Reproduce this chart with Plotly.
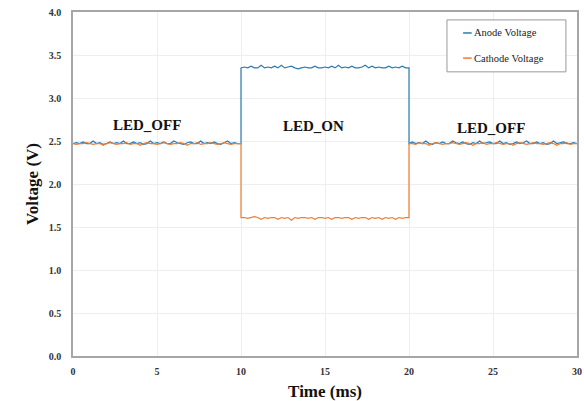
import numpy as np
import plotly.graph_objects as go

# Measured voltages, sampled every 0.2 ms within each interval
anode_off_1 = [2.47, 2.48, 2.47, 2.49, 2.47, 2.47, 2.50, 2.47, 2.48, 2.46, 2.47, 2.49, 2.47, 2.48, 2.47, 2.50, 2.47,
               2.47, 2.49, 2.47, 2.48, 2.46, 2.47, 2.50, 2.47, 2.48, 2.47, 2.49, 2.47, 2.47, 2.50, 2.48, 2.47, 2.46,
               2.48, 2.49, 2.47, 2.47, 2.50, 2.47, 2.48, 2.47, 2.49, 2.47, 2.46, 2.48, 2.50, 2.47, 2.48, 2.47, 2.47]
anode_on = [3.35, 3.36, 3.35, 3.37, 3.35, 3.35, 3.38, 3.35, 3.36, 3.35, 3.37, 3.35, 3.38, 3.35, 3.36, 3.37, 3.35,
            3.34, 3.35, 3.36, 3.35, 3.35, 3.37, 3.35, 3.35, 3.36, 3.35, 3.37, 3.35, 3.38, 3.35, 3.36, 3.35, 3.37,
            3.35, 3.35, 3.36, 3.38, 3.35, 3.37, 3.35, 3.36, 3.35, 3.35, 3.37, 3.35, 3.36, 3.35, 3.37, 3.35, 3.35]
anode_off_2 = [2.47, 2.49, 2.47, 2.48, 2.47, 2.50, 2.47, 2.46, 2.48, 2.47, 2.49, 2.47, 2.47, 2.50, 2.48, 2.47, 2.49,
               2.47, 2.46, 2.48, 2.47, 2.50, 2.47, 2.48, 2.49, 2.47, 2.47, 2.50, 2.47, 2.48, 2.46, 2.47, 2.49, 2.47,
               2.48, 2.50, 2.47, 2.47, 2.49, 2.47, 2.48, 2.46, 2.47, 2.50, 2.47, 2.48, 2.49, 2.47, 2.47, 2.48, 2.47]

cathode_off_1 = [2.47, 2.46, 2.47, 2.47, 2.48, 2.47, 2.46, 2.47, 2.47, 2.45, 2.47, 2.48, 2.47, 2.46, 2.47, 2.47,
                 2.48, 2.46, 2.47, 2.47, 2.45, 2.47, 2.48, 2.47, 2.47, 2.46, 2.47, 2.48, 2.47, 2.46, 2.47, 2.47,
                 2.48, 2.47, 2.45, 2.47, 2.47, 2.48, 2.46, 2.47, 2.47, 2.48, 2.47, 2.46, 2.47, 2.48, 2.47, 2.46,
                 2.47, 2.47, 2.47]
cathode_on = [1.61, 1.61, 1.60, 1.61, 1.62, 1.61, 1.59, 1.61, 1.60, 1.61, 1.61, 1.59, 1.61, 1.60, 1.61, 1.58, 1.61,
              1.60, 1.61, 1.61, 1.60, 1.61, 1.59, 1.61, 1.61, 1.60, 1.61, 1.59, 1.61, 1.61, 1.60, 1.61, 1.61, 1.59,
              1.61, 1.60, 1.61, 1.61, 1.59, 1.61, 1.60, 1.61, 1.59, 1.61, 1.60, 1.61, 1.59, 1.61, 1.60, 1.61, 1.61]
cathode_off_2 = [2.47, 2.47, 2.46, 2.48, 2.47, 2.47, 2.45, 2.47, 2.48, 2.47, 2.46, 2.47, 2.47, 2.48, 2.47, 2.46,
                 2.47, 2.48, 2.47, 2.45, 2.47, 2.47, 2.48, 2.46, 2.47, 2.47, 2.48, 2.47, 2.46, 2.47, 2.47, 2.45,
                 2.47, 2.48, 2.47, 2.46, 2.47, 2.48, 2.47, 2.47, 2.46, 2.47, 2.48, 2.47, 2.45, 2.47, 2.47, 2.48,
                 2.46, 2.47, 2.47]

# Interval boundaries (ms) and state labels
intervals = [(0, 10), (10, 20), (20, 30)]
state_labels = ["LED_OFF", "LED_ON", "LED_OFF"]
label_x = [4.4, 14.3, 24.9]
label_y = [2.69, 2.67, 2.65]

x_ticks = [0, 5, 10, 15, 20, 25, 30]
y_ticks = [0.0, 0.5, 1.0, 1.5, 2.0, 2.5, 3.0, 3.5, 4.0]

series_names = ["Anode Voltage", "Cathode Voltage"]
series_colors = ["#2C7BB0", "#ED7D31"]


def build_trace(segments):
    t, v = [], []
    for (a, b), seg in zip(intervals, segments):
        t.extend(np.linspace(a, b, len(seg)).tolist())
        v.extend(seg)
    return t, v


t_a, v_a = build_trace([anode_off_1, anode_on, anode_off_2])
t_c, v_c = build_trace([cathode_off_1, cathode_on, cathode_off_2])

serif = "Liberation Serif"

fig = go.Figure()
fig.add_trace(go.Scatter(x=t_a, y=v_a, mode="lines", name=series_names[0],
                         line=dict(color=series_colors[0], width=1.2), showlegend=False))
fig.add_trace(go.Scatter(x=t_c, y=v_c, mode="lines", name=series_names[1],
                         line=dict(color=series_colors[1], width=1.2), showlegend=False))

for x, y, txt in zip(label_x, label_y, state_labels):
    fig.add_annotation(x=x, y=y, text=txt, showarrow=False,
                       font=dict(family=serif, size=15, color="#111111", weight="bold"))

# Legend box drawn in paper coordinates
fig.add_shape(type="rect", xref="paper", yref="paper", x0=0.742, x1=0.978, y0=0.826, y1=0.977,
              line=dict(color="#999999", width=1), fillcolor="white")
for name, col, ly in zip(series_names, series_colors, [0.939, 0.866]):
    fig.add_shape(type="line", xref="paper", yref="paper", x0=0.774, x1=0.791, y0=ly, y1=ly,
                  line=dict(color=col, width=1.5))
    fig.add_annotation(xref="paper", yref="paper", x=0.791, y=ly, text=name, showarrow=False,
                       xanchor="left", yanchor="middle",
                       font=dict(family=serif, size=10.5, color="#222222"))

axis_common = dict(showline=True, linecolor="#A6A6A6", linewidth=1.5, mirror=True,
                   showgrid=True, gridcolor="#EEEEEE", gridwidth=1, zeroline=False, ticks="",
                   automargin=False,
                   tickfont=dict(family=serif, size=10, color="#333333", weight="bold"))

fig.update_xaxes(range=[0, 30], tickvals=x_ticks, ticktext=[str(v) for v in x_ticks],
                 ticklabelstandoff=5,
                 title=dict(text="Time (ms)", font=dict(family=serif, size=17, color="#111111", weight="bold"),
                            standoff=10),
                 **axis_common)
fig.update_yaxes(range=[0, 4.0], tickvals=y_ticks, ticktext=[f"{v:.1f}" for v in y_ticks],
                 ticklabelstandoff=8,
                 title=dict(text="Voltage (V)", font=dict(family=serif, size=17, color="#111111", weight="bold"),
                            standoff=6),
                 **axis_common)

fig.update_layout(width=584, height=401, margin=dict(l=73, r=7, t=12, b=45),
                  paper_bgcolor="white", plot_bgcolor="white")

fig.write_html("out.html")
